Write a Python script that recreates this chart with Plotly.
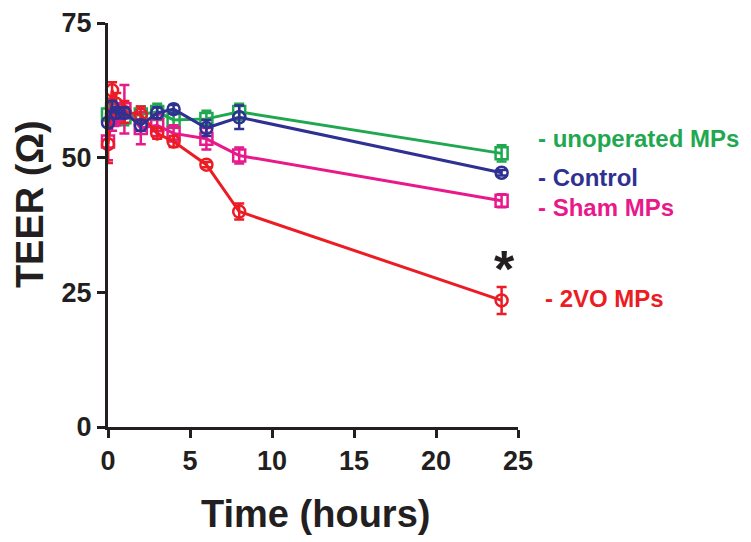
import plotly.graph_objects as go

times = [0, 0.25, 0.5, 1, 2, 3, 4, 6, 8, 24]

unoperated = [58, 59, 58, 57.5, 58, 58.5, 57, 57.2, 58.5, 50.8]
unoperated_err = [2, 1.5, 1.5, 1.5, 1.5, 1.5, 1.5, 1.5, 1.5, 1.5]

control = [56.5, 59.5, 58.3, 58.3, 56, 58.3, 59, 55.5, 57.5, 47.2]
control_err = [1, 1, 1, 1, 1, 1, 0.8, 1.5, 2.2, 0.5]

sham = [53, 57, 58, 59, 55.5, 56, 54.5, 53.5, 50.4, 42]
sham_err = [3.5, 2, 2, 4.5, 3, 2, 1.5, 2, 1.5, 1.2]

vo2 = [52.5, 62.5, 60, 58.5, 58, 54.5, 53, 48.7, 40, 23.5]
vo2_err = [3.5, 1.5, 2, 2, 1.5, 1, 1, 0.5, 1.5, 2.5]

series = [
    ("unoperated MPs", unoperated, unoperated_err, "#1fa84f", "square-open"),
    ("Sham MPs", sham, sham_err, "#e8198b", "square-open"),
    ("2VO MPs", vo2, vo2_err, "#ec1c24", "circle-open"),
    ("Control", control, control_err, "#2e3192", "circle-open"),
]

labels = ["unoperated MPs", "Control", "Sham MPs", "2VO MPs"]
label_y = [53.5, 46.4, 40.7, 23.9]
label_x = [1.044, 1.044, 1.044, 1.061]
label_colors = ["#1fa84f", "#2e3192", "#e8198b", "#ec1c24"]

FONT = "Liberation Sans, Arial, sans-serif"
TXT = "#231f20"

fig = go.Figure()
for name, vals, err, color, sym in series:
    fig.add_trace(go.Scatter(
        x=times, y=vals, name=name, mode="lines+markers",
        line=dict(color=color, width=3),
        marker=dict(symbol=sym, size=12, color=color, line=dict(width=2.5, color=color)),
        error_y=dict(type="data", array=err, visible=True, color=color, thickness=2.5, width=5),
        cliponaxis=False, showlegend=False,
    ))

for lab, ly, lx, lc in zip(labels, label_y, label_x, label_colors):
    fig.add_annotation(x=lx, y=ly, xref="paper", yref="y", text="<b>- " + lab + "</b>",
                       showarrow=False, xanchor="left", yanchor="middle",
                       font=dict(family=FONT, size=24, color=lc))

fig.add_annotation(x=24.2, y=29.3, xref="x", yref="y", text="<b>*</b>", showarrow=False,
                   xanchor="center", yanchor="middle",
                   font=dict(family=FONT, size=52, color=TXT))

# axis titles
fig.add_annotation(x=0.505, y=-0.215, xref="paper", yref="paper", text="<b>Time (hours)</b>",
                   showarrow=False, xanchor="center", yanchor="middle",
                   font=dict(family=FONT, size=38, color=TXT))
fig.add_annotation(x=-0.19, y=0.552, xref="paper", yref="paper", text="<b>TEER (Ω)</b>",
                   showarrow=False, xanchor="center", yanchor="middle", textangle=-90,
                   font=dict(family=FONT, size=38, color=TXT))

# page body has an 8px margin, so shift margins to keep plot area in place
fig.update_layout(
    width=751, height=542,
    margin=dict(l=100, r=241, t=15, b=123),
    plot_bgcolor="white", paper_bgcolor="white",
    font=dict(family=FONT, color=TXT),
)
fig.update_xaxes(
    range=[0, 25], tickvals=[0, 5, 10, 15, 20, 25], showgrid=False, zeroline=False,
    showline=True, linecolor=TXT, linewidth=3, ticks="outside", ticklen=8, tickwidth=3,
    tickcolor=TXT, tickfont=dict(family=FONT, size=27, color=TXT, weight="bold"),
    automargin=False,
)
fig.update_yaxes(
    range=[0, 75], tickvals=[0, 25, 50, 75], showgrid=False, zeroline=False,
    showline=True, linecolor=TXT, linewidth=3, ticks="outside", ticklen=8, tickwidth=3,
    tickcolor=TXT, tickfont=dict(family=FONT, size=27, color=TXT, weight="bold"),
    automargin=False,
)

fig.write_html("out.html")
